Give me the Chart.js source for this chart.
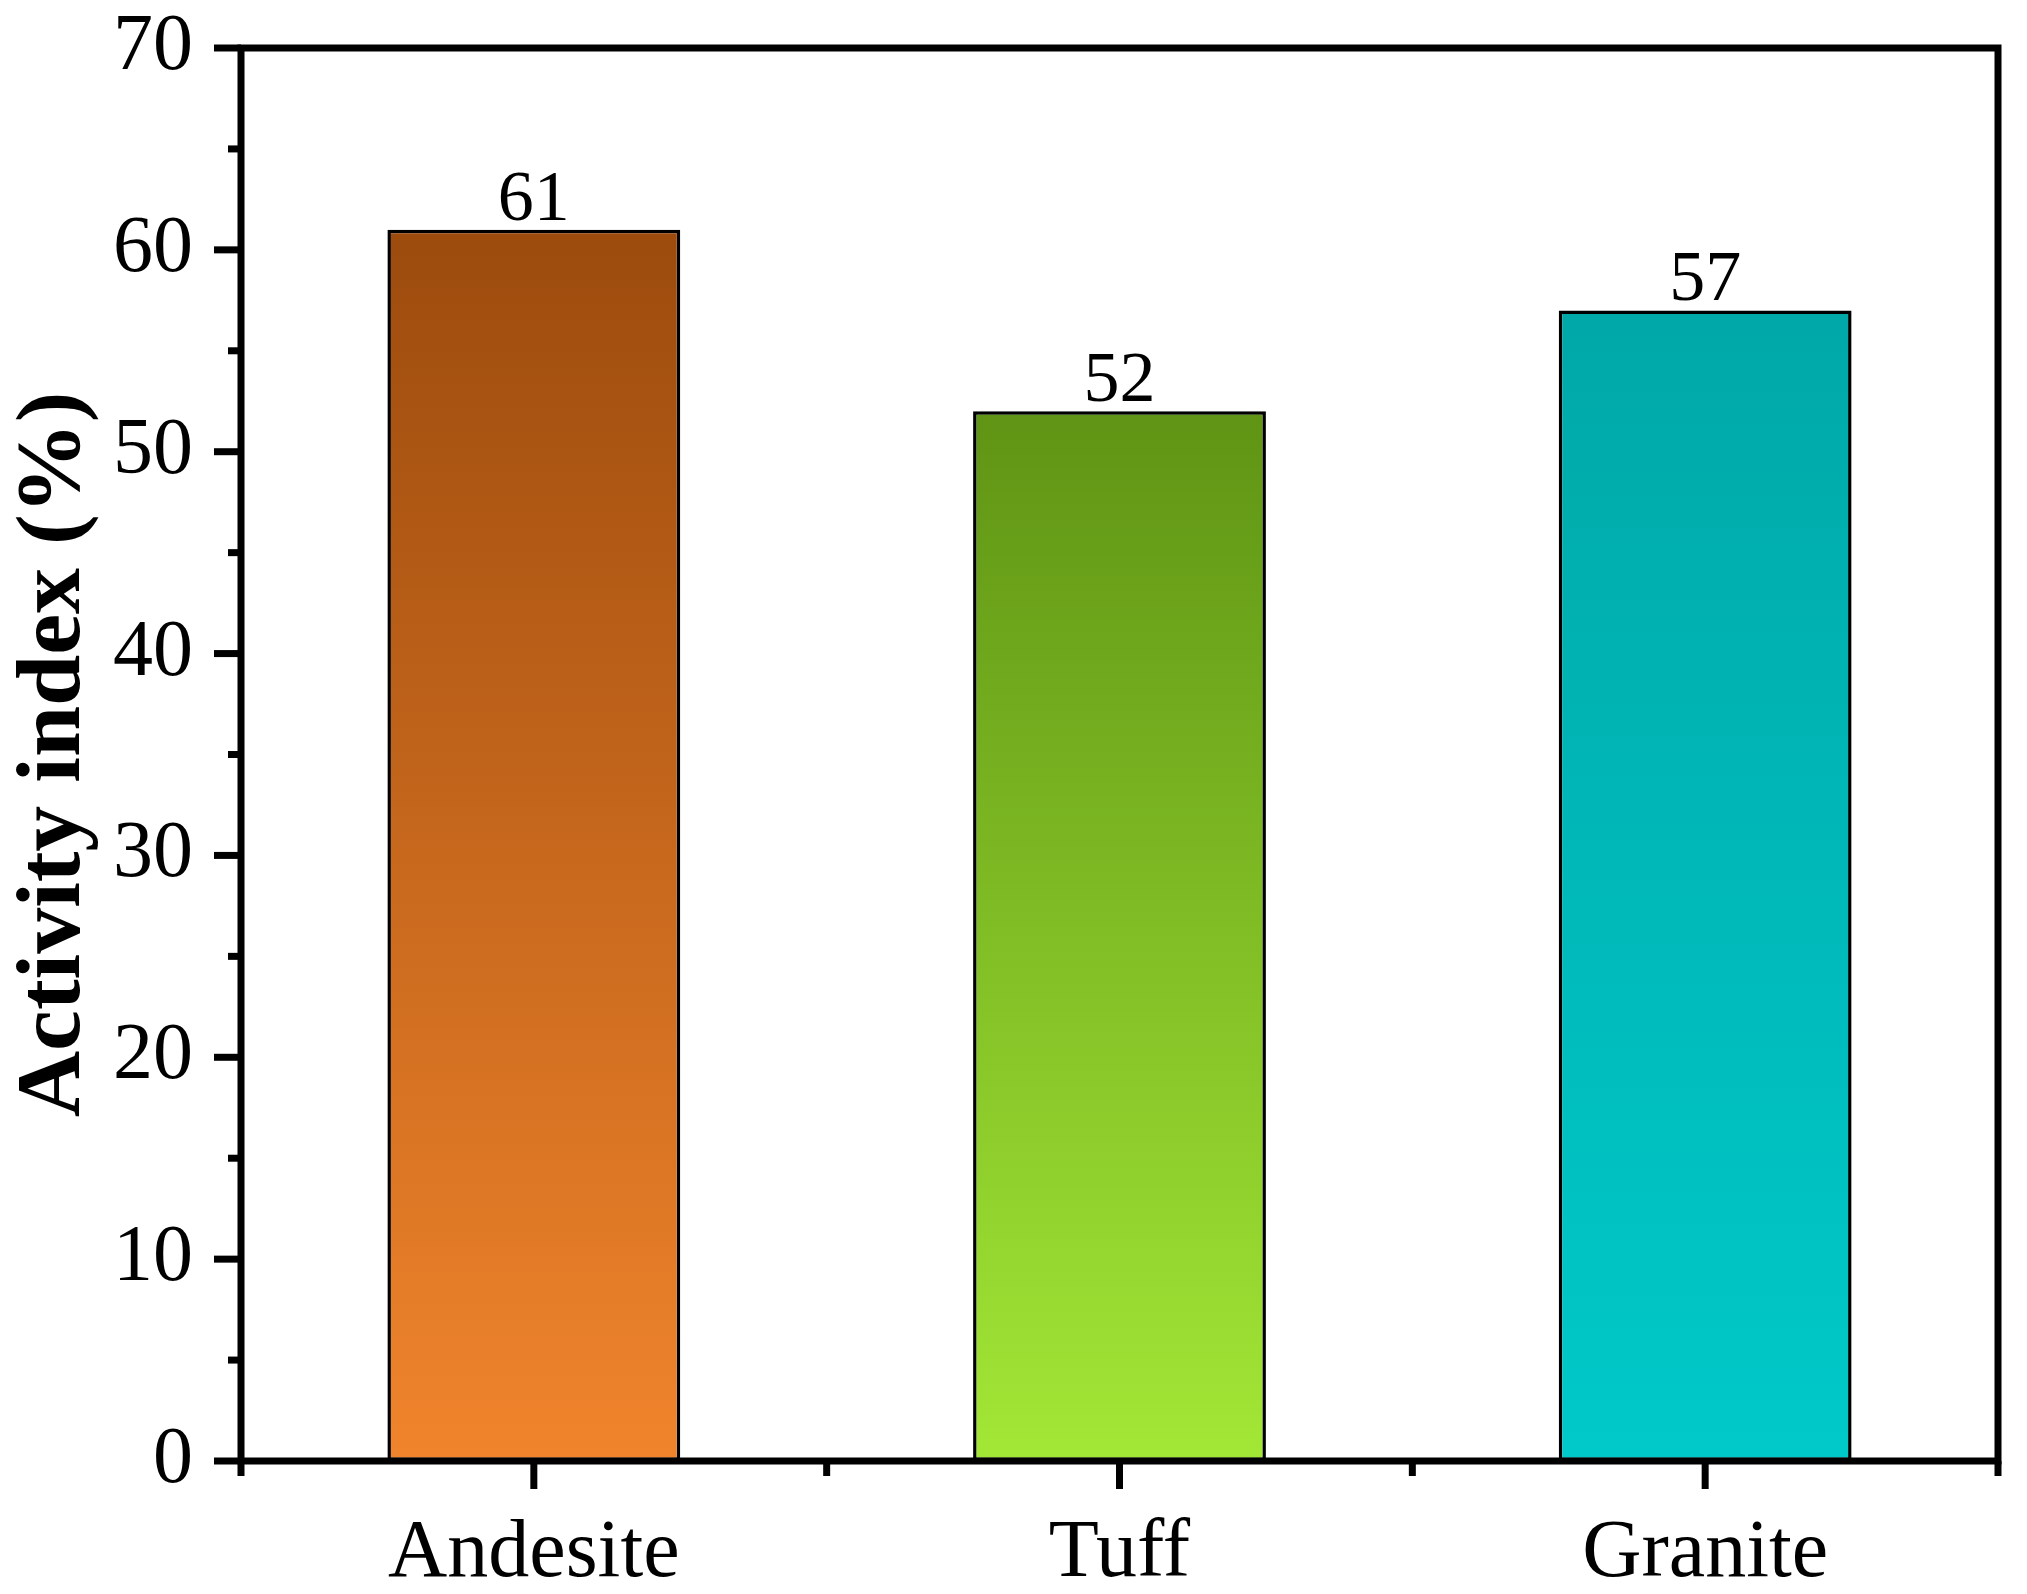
<!DOCTYPE html>
<html>
<head>
<meta charset="utf-8">
<script src="https://cdn.jsdelivr.net/npm/chart.js@4.4.0/dist/chart.umd.min.js"></script>
<style>
  html, body { margin: 0; padding: 0; background: #fff; }
</style>
</head>
<body>
<canvas id="chartCanvas" width="2027" height="1594"></canvas>
<script>
// data
const categories = ['Andesite', 'Tuff', 'Granite'];
const activityIndex = [61, 52, 57];
const yMajorTicks = [0, 10, 20, 30, 40, 50, 60, 70];
const yMinorTicks = [5, 15, 25, 35, 45, 55, 65];
const barTopColors = ['#9c4b0d', '#5f9414', '#00a8a8'];
const barBottomColors = ['#f0842c', '#a3e736', '#00c9c9'];

const SERIF = '"Liberation Serif", "Times New Roman", serif';

// gradient per bar, from its top value down to zero
function barGradient(ctx) {
  const chart = ctx.chart;
  const i = ctx.dataIndex ?? 0;
  const y = chart.scales.y;
  if (!y) return barBottomColors[i];
  const top = y.getPixelForValue(activityIndex[i]);
  const base = y.getPixelForValue(0);
  if (!isFinite(top) || !isFinite(base) || top === base) return barBottomColors[i];
  const g = chart.ctx.createLinearGradient(0, top, 0, base);
  g.addColorStop(0, barTopColors[i]);
  g.addColorStop(1, barBottomColors[i]);
  return g;
}

// frame + major/minor ticks, drawn through the scales
const framePlugin = {
  id: 'frame',
  afterDraw(chart) {
    const { ctx, chartArea: a, scales } = chart;
    ctx.save();
    ctx.strokeStyle = '#000';
    ctx.lineWidth = 7;
    ctx.lineCap = 'butt';
    ctx.strokeRect(a.left, a.top, a.right - a.left, a.bottom - a.top);

    const hline = (x1, x2, y) => { ctx.beginPath(); ctx.moveTo(x1, y); ctx.lineTo(x2, y); ctx.stroke(); };
    const vline = (x, y1, y2) => { ctx.beginPath(); ctx.moveTo(x, y1); ctx.lineTo(x, y2); ctx.stroke(); };

    yMajorTicks.forEach(v => {
      const py = scales.y.getPixelForValue(v);
      hline(a.left - 27, a.left, py);
    });
    yMinorTicks.forEach(v => {
      const py = scales.y.getPixelForValue(v);
      hline(a.left - 13, a.left, py);
    });

    categories.forEach((c, i) => {
      const px = scales.x.getPixelForValue(i);
      vline(px, a.bottom, a.bottom + 28);
    });
    for (let i = 0; i <= categories.length; i++) {
      const px = scales.x.getPixelForValue(i - 0.5);
      vline(px, a.bottom, a.bottom + 15);
    }
    ctx.restore();
  }
};

// numbers above the bars
const valueLabels = {
  id: 'valueLabels',
  afterDatasetsDraw(chart) {
    const { ctx } = chart;
    const meta = chart.getDatasetMeta(0);
    ctx.save();
    ctx.font = '72px ' + SERIF;
    ctx.fillStyle = '#000';
    ctx.textAlign = 'center';
    ctx.textBaseline = 'alphabetic';
    meta.data.forEach((bar, i) => {
      ctx.fillText(String(activityIndex[i]), bar.x, bar.y - 10);
    });
    ctx.restore();
  }
};

new Chart(document.getElementById('chartCanvas'), {
  type: 'bar',
  data: {
    labels: categories,
    datasets: [{
      data: activityIndex,
      backgroundColor: barGradient,
      borderColor: '#000',
      borderWidth: 3.5,
      borderSkipped: false,
      categoryPercentage: 1,
      barPercentage: 0.5
    }]
  },
  options: {
    responsive: false,
    animation: false,
    devicePixelRatio: 1,
    layout: { padding: { top: 0, right: 29, left: 0, bottom: 0 } },
    plugins: {
      legend: { display: false },
      tooltip: { enabled: false }
    },
    scales: {
      x: {
        grid: { display: false, drawTicks: false },
        border: { display: false },
        ticks: {
          padding: 44,
          color: '#000',
          font: { family: SERIF, size: 82 }
        },
        afterFit(scale) { scale.height = 133; }
      },
      y: {
        min: 0,
        max: 70,
        grid: { display: false, drawTicks: false },
        border: { display: false },
        ticks: {
          stepSize: 10,
          padding: 48,
          color: '#000',
          font: { family: SERIF, size: 80 }
        },
        title: {
          display: true,
          text: 'Activity index (%)',
          color: '#000',
          padding: 0,
          font: { family: SERIF, size: 92, weight: 'bold' }
        },
        afterFit(scale) {
          scale.width = 241;
          scale.paddingTop = 48;
          scale.paddingBottom = 0;
        }
      }
    }
  },
  plugins: [framePlugin, valueLabels]
});
</script>
</body>
</html>
